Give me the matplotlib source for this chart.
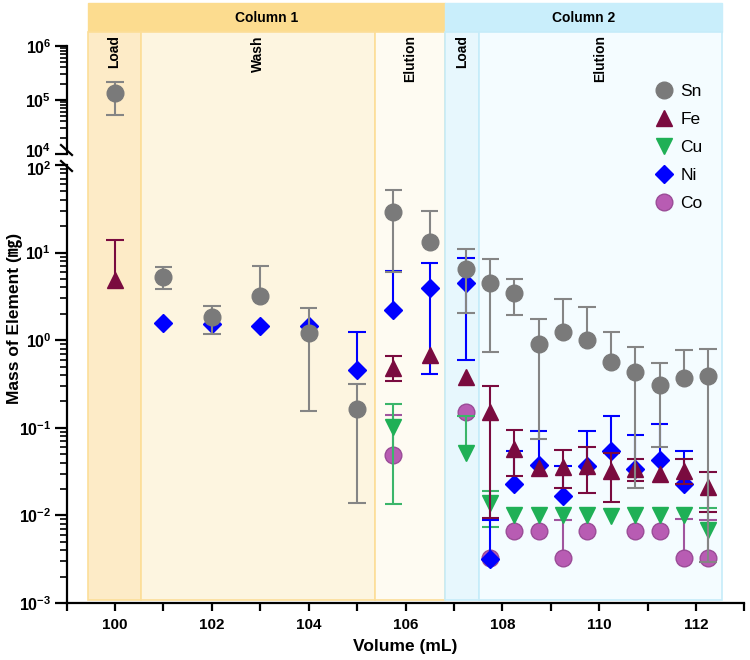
import numpy as np
import matplotlib
matplotlib.use("Agg")
import matplotlib.pyplot as plt
from matplotlib.patches import Rectangle
from matplotlib.lines import Line2D
from matplotlib.ticker import FixedLocator, FixedFormatter, LogLocator, NullFormatter
import matplotlib.transforms as mtransforms

nan = np.nan

# ---------------- data ----------------
sn_x = [100, 101, 102, 103, 104, 105, 105.75, 106.5, 107.25, 107.75, 108.25, 108.75,
        109.25, 109.75, 110.25, 110.75, 111.25, 111.75, 112.25]
sn_y = [1.36e5, 5.2, 1.85, 3.2, 1.22, 0.165, 29, 13.1, 6.5, 4.53, 3.43, 0.91,
        1.25, 1.0, 0.56, 0.43, 0.305, 0.373, 0.39]
sn_lo = [5.3e4, 3.87, 1.17, nan, 0.157, 0.0138, 6.0, nan, 2.06, 0.74, 1.95, 0.074,
         nan, nan, nan, 0.0204, 0.061, nan, 0.0029]
sn_hi = [2.2e5, 6.8, 2.45, 7.0, 2.31, 0.32, 52, 29.9, 11.1, 8.4, 5.0, 1.75,
         2.95, 2.37, 1.24, 0.84, 0.55, 0.77, 0.79]

fe_x = [100, 105.75, 106.5, 107.25, 107.75, 108.25, 108.75, 109.25, 109.75, 110.25,
        110.75, 111.25, 111.75, 112.25]
fe_y = [4.87, 0.48, 0.68, 0.38, 0.150, 0.058, 0.0345, 0.036, 0.0366, 0.032,
        0.0336, 0.030, 0.032, 0.021]
fe_lo = [nan, 0.345, nan, nan, 0.0094, 0.028, nan, 0.0204, 0.0179, 0.0142,
         0.0249, nan, 0.0228, 0.011]
fe_hi = [13.9, 0.66, nan, nan, 0.30, 0.094, nan, 0.056, 0.061, 0.052,
         0.044, nan, 0.0436, 0.031]

cu_x = [105.75, 107.25, 107.75, 108.25, 108.75, 109.25, 109.75, 110.25, 110.75,
        111.25, 111.75, 112.25]
cu_y = [0.103, 0.051, 0.0137, 0.0101, 0.0101, 0.0101, 0.0101, 0.0098, 0.0101,
        0.0101, 0.0101, 0.0068]
cu_lo = [0.0134, nan, 0.0074, nan, nan, nan, nan, nan, nan, nan, nan, nan]
cu_hi = [0.185, 0.136, 0.019, nan, nan, nan, nan, nan, nan, nan, nan, 0.0122]

ni_x = [101, 102, 103, 104, 105, 105.75, 106.5, 107.25, 107.75, 108.25, 108.75,
        109.25, 109.75, 110.25, 110.75, 111.25, 111.75]
ni_y = [1.56, 1.55, 1.45, 1.45, 0.457, 2.2, 3.98, 4.53, 0.0032, 0.0228, 0.0376,
        0.0167, 0.037, 0.054, 0.034, 0.043, 0.0228]
ni_lo = [nan, nan, nan, nan, nan, nan, 0.41, 0.594, nan, nan, nan,
         nan, nan, nan, nan, nan, nan]
ni_hi = [nan, nan, nan, nan, 1.25, 6.2, 7.55, 8.6, 0.0089, 0.054, 0.092,
         0.037, 0.092, 0.137, 0.082, 0.11, 0.055]

co_x = [105.75, 107.25, 107.75, 108.25, 108.75, 109.25, 109.75, 110.75, 111.25,
        111.75, 112.25]
co_y = [0.049, 0.15, 0.0033, 0.0066, 0.0066, 0.0033, 0.0066, 0.0066, 0.0066,
        0.0033, 0.0033]
co_lo = [nan] * 11
co_hi = [0.14, nan, nan, nan, nan, 0.0089, nan, nan, nan, 0.0091, 0.0089]

# phases: (label, x start, x end)
col_names = ["Column 1", "Column 2"]
col_spans = [(99.44, 106.82), (106.82, 112.54)]
phase_names = ["Load", "Wash", "Elution", "Load", "Elution"]
phase_spans = [(99.44, 100.54), (100.54, 105.38), (105.38, 106.82),
               (106.82, 107.51), (107.51, 112.54)]

x_ticks = [100, 102, 104, 106, 108, 110, 112]
top_decades = [4, 5, 6]
bot_decades = [-3, -2, -1, 0, 1, 2]

# ---------------- styling ----------------
plt.rcParams['font.family'] = ['Liberation Sans', 'Noto Sans CJK JP', 'DejaVu Sans']
plt.rcParams['mathtext.fontset'] = 'custom'
plt.rcParams['mathtext.rm'] = 'Liberation Sans'
plt.rcParams['mathtext.bf'] = 'Liberation Sans:bold'

W, H = 750, 660
fig = plt.figure(figsize=(7.5, 6.6), dpi=100)

def fx(px):
    return px / W

def fy(py):
    return 1 - py / H

XL, XR = 66.6, 744.4
XMIN, XMAX = 99, 113

ax_bg = fig.add_axes([fx(XL), 0, fx(XR) - fx(XL), 1], zorder=0)
ax_bg.set_xlim(XMIN, XMAX)
ax_bg.set_ylim(H, 0)
ax_bg.axis('off')

ax_top = fig.add_axes([fx(XL), fy(154), fx(XR) - fx(XL), (154 - 46) / H], zorder=2)
ax_bot = fig.add_axes([fx(XL), fy(603), fx(XR) - fx(XL), (603 - 165) / H], zorder=1)
for a in (ax_top, ax_bot):
    a.set_facecolor('none')
    a.set_xlim(XMIN, XMAX)
    a.set_yscale('log')
    a.spines['top'].set_visible(False)
    a.spines['right'].set_visible(False)
    a.spines['left'].set_linewidth(1.6)
    a.spines['bottom'].set_linewidth(1.6)
ax_top.set_ylim(1e4, 1e6)
ax_bot.set_ylim(1e-3, 1e2)
ax_top.spines['bottom'].set_visible(False)
ax_top.tick_params(axis='x', bottom=False, labelbottom=False)

# background shading (y in pixel space of bg axes)
col_fill = ["#FCDC8F", "#C9EEFB"]
col_edge = ["#FCDC8F", "#C9EEFB"]
phase_fill = ["#FDEBC7", "#FDF5E0", "#FEFBF2", "#E7F7FD", "#F4FCFF"]
phase_edge = ["#FCDE98", "#FCDE98", "#FCDE98", "#C6ECF9", "#C6ECF9"]
for (x0, x1), name, fc, ec in zip(col_spans, col_names, col_fill, col_edge):
    ax_bg.add_patch(Rectangle((x0, 3), x1 - x0, 29, facecolor=fc, edgecolor=ec, lw=1.0))
    ax_bg.text((x0 + x1) / 2, 17.5, name, ha='center', va='center',
               fontsize=10, fontweight='bold')
for (x0, x1), name, fc, ec in zip(phase_spans, phase_names, phase_fill, phase_edge):
    ax_bg.add_patch(Rectangle((x0, 32), x1 - x0, 600 - 32, facecolor=fc, edgecolor=ec, lw=1.2))
    ax_bg.text((x0 + x1) / 2, 35, name, ha='center', va='top', rotation=90,
               fontsize=10, fontweight='bold')

# ---------------- ticks ----------------
ax_bot.set_xticks(np.arange(99, 114, 1))
ax_bot.set_xticklabels([str(v) if v in x_ticks else "" for v in range(99, 114)])
ax_bot.tick_params(axis='x', length=6, width=1.6, labelsize=11, pad=5)
for lab in ax_bot.get_xticklabels():
    lab.set_fontweight('bold')

for a, decs in ((ax_top, top_decades), (ax_bot, bot_decades)):
    a.yaxis.set_major_locator(FixedLocator([10.0 ** d for d in decs]))
    a.yaxis.set_major_formatter(FixedFormatter([r"$\mathbf{10^{%d}}$" % d for d in decs]))
    a.yaxis.set_minor_locator(LogLocator(base=10, subs=np.arange(2, 10), numticks=20))
    a.yaxis.set_minor_formatter(NullFormatter())
    a.tick_params(axis='y', which='major', length=9, width=1.6, labelsize=11.5, pad=2)
    a.tick_params(axis='y', which='minor', length=5, width=1.2)

# separate the two labels around the axis break
fig.canvas.draw()
ax_top.get_yticklabels()[0].set_transform(
    ax_top.get_yticklabels()[0].get_transform()
    + mtransforms.ScaledTranslation(0, 4 / 100, fig.dpi_scale_trans))
ax_bot.get_yticklabels()[-1].set_transform(
    ax_bot.get_yticklabels()[-1].get_transform()
    + mtransforms.ScaledTranslation(0, -3 / 100, fig.dpi_scale_trans))

# axis break marks
for yb in (150, 166):
    fig.add_artist(Line2D([fx(61), fx(72)], [fy(yb - 5), fy(yb + 5)],
                          color='black', lw=1.6))

# ---------------- series ----------------
CW = 0.18

def draw(ax, x, y, lo, hi, color, ecolor, marker, ms, mec, z, label):
    x = np.asarray(x, float); y = np.asarray(y, float)
    lo = np.asarray(lo, float); hi = np.asarray(hi, float)
    for b in (lo, hi):
        m = ~np.isnan(b)
        ax.vlines(x[m], y[m], b[m], color=ecolor, lw=1.5, zorder=z)
        ax.hlines(b[m], x[m] - CW, x[m] + CW, color=ecolor, lw=1.5, zorder=z)
    ln, = ax.plot(x, y, ls='none', marker=marker, ms=ms, mfc=color, mec=mec,
                  mew=1.0, zorder=z + 0.5, label=label)
    return ln

series = [
    ("Sn", sn_x, sn_y, sn_lo, sn_hi, "#7A7A7A", "#858585", "o", 12, "#7A7A7A", 10),
    ("Fe", fe_x, fe_y, fe_lo, fe_hi, "#7A0B3F", "#7A0B3F", "^", 12, "#7A0B3F", 8),
    ("Cu", cu_x, cu_y, cu_lo, cu_hi, "#1FB056", "#3BB56A", "v", 12, "#1FB056", 4),
    ("Ni", ni_x, ni_y, ni_lo, ni_hi, "#0000FF", "#0000FF", "D", 9.5, "#0000FF", 6),
    ("Co", co_x, co_y, co_lo, co_hi, "#B85CB3", "#A0559E", "o", 12, "#9A4C97", 2),
]
handles = {}
for name, x, y, lo, hi, c, ec, mk, ms, mec, z in series:
    draw(ax_top, x, y, lo, hi, c, ec, mk, ms, mec, z, name)
    handles[name] = draw(ax_bot, x, y, lo, hi, c, ec, mk, ms, mec, z, name)

order = ["Sn", "Fe", "Cu", "Ni", "Co"]
leg = ax_bot.legend([handles[n] for n in order], order, loc='upper left',
                    bbox_to_anchor=(fx(655), fy(84)), bbox_transform=fig.transFigure,
                    frameon=False, fontsize=12.5, handlelength=1.0, handletextpad=0.45,
                    labelspacing=0.74, borderpad=0, borderaxespad=0, numpoints=1)

# axis labels
fig.text(fx(405), fy(646), "Volume (mL)", ha='center', va='center',
         fontsize=12.5, fontweight='bold')
fig.text(fx(15), fy(318), "Mass of Element (㎎)", ha='center', va='center',
         rotation=90, fontsize=12.5, fontweight='bold')

fig.savefig("out.png", dpi=100)
